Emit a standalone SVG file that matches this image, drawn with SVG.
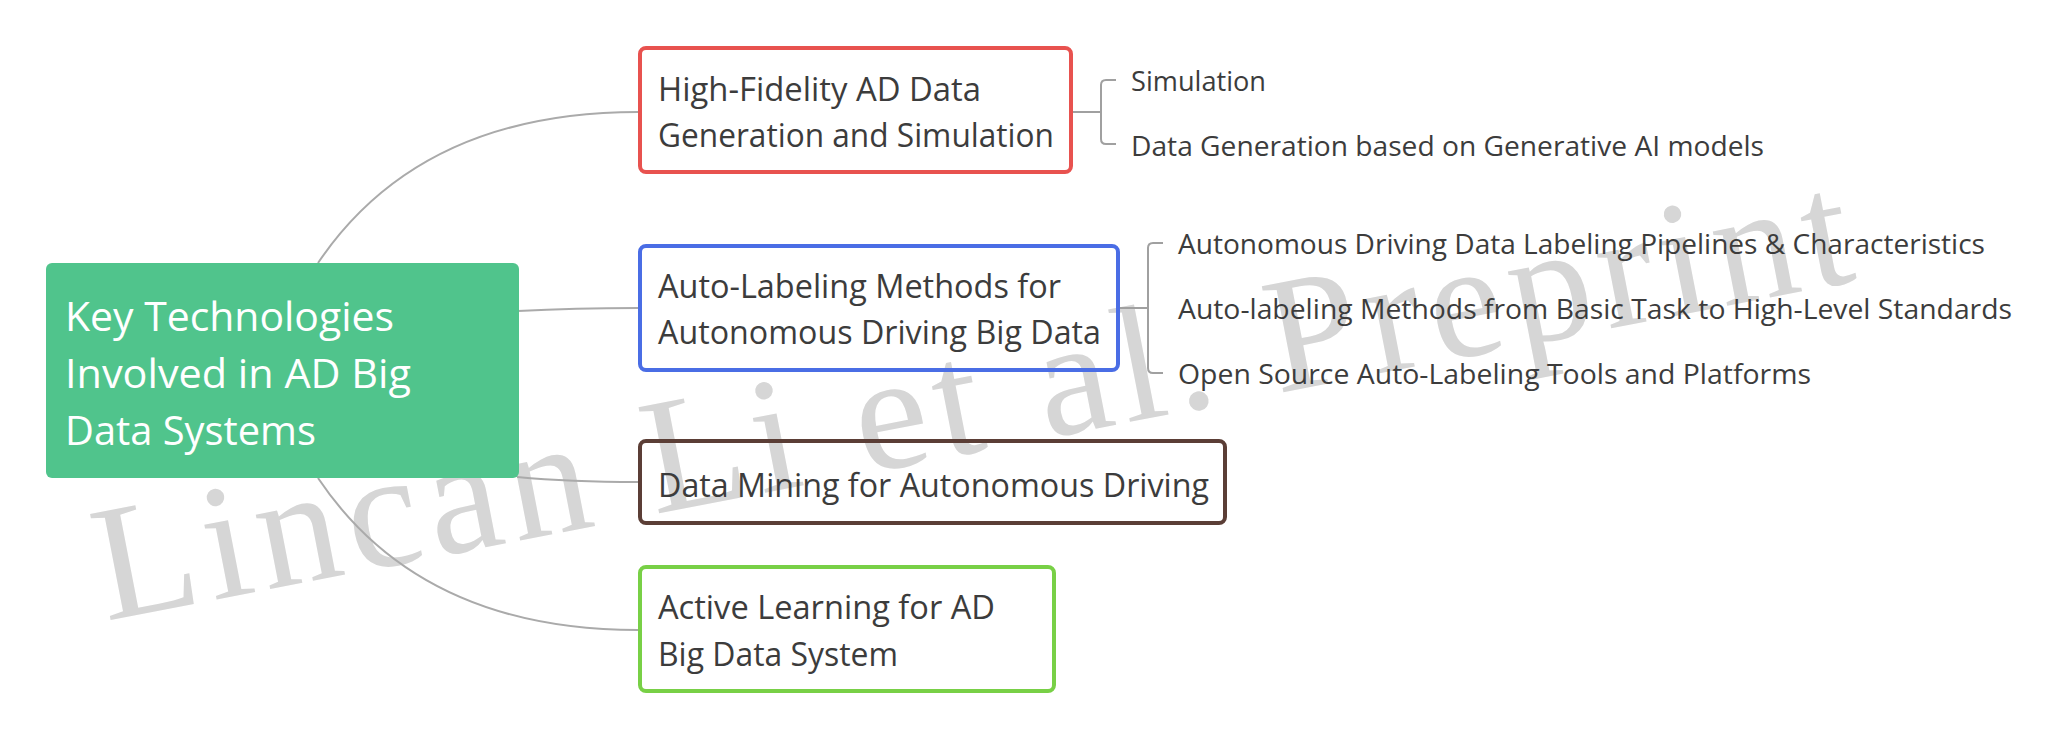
<svg xmlns="http://www.w3.org/2000/svg" width="2070" height="739" viewBox="0 0 2070 739">
<style>
.wm{font-family:"Liberation Serif","Times New Roman",serif;font-size:165px;fill:#d6d6d6;letter-spacing:8.5px}
.t{font-family:"Open Sans","Noto Sans","Liberation Sans",sans-serif;fill:#3c3c3c}
.root{font-size:41px;fill:#ffffff}
.node{font-size:32px}
.sub{font-size:28px}
.box{fill:none;stroke-width:4}
.conn{fill:none;stroke:#aaaaaa;stroke-width:2}
.br{fill:none;stroke:#a0a0a0;stroke-width:2}
</style>
<rect width="2070" height="739" fill="#ffffff"/>
<text class="wm" transform="translate(106,621) rotate(-11)">Lincan Li et al. Preprint</text>
<g id="connectors">
<path class="conn" d="M318,263 Q420,112 638,112"/>
<path class="conn" d="M518,311 Q575,308 638,308"/>
<path class="conn" d="M517,477 Q570,482 638,482"/>
<path class="conn" d="M318,478 Q420,630 638,630"/>
<path class="br" d="M1073,112 H1101"/>
<path class="br" d="M1116,80 H1106 Q1101,80 1101,85 V139 Q1101,144 1106,144 H1116"/>
<path class="br" d="M1120,308 H1148"/>
<path class="br" d="M1163,243 H1153 Q1148,243 1148,248 V368 Q1148,373 1153,373 H1163"/>
</g>
<g id="root">
<rect x="46" y="263" width="473" height="215" rx="6" fill="#50c48c"/>
<text class="t root" x="65" y="331" textLength="329" lengthAdjust="spacingAndGlyphs">Key Technologies</text>
<text class="t root" x="65" y="388" textLength="346" lengthAdjust="spacingAndGlyphs">Involved in AD Big</text>
<text class="t root" x="65" y="445" textLength="251" lengthAdjust="spacingAndGlyphs">Data Systems</text>
</g>
<g id="node-hifi">
<rect class="box" x="640" y="48" width="431" height="124" rx="6" stroke="#e8524f"/>
<text class="t node" x="658" y="101" textLength="323" lengthAdjust="spacingAndGlyphs">High-Fidelity AD Data</text>
<text class="t node" x="658" y="147" textLength="396" lengthAdjust="spacingAndGlyphs">Generation and Simulation</text>
</g>
<g id="node-autolabel">
<rect class="box" x="640" y="246" width="478" height="124" rx="6" stroke="#4a6de5"/>
<text class="t node" x="658" y="298" textLength="403" lengthAdjust="spacingAndGlyphs">Auto-Labeling Methods for</text>
<text class="t node" x="658" y="344" textLength="443" lengthAdjust="spacingAndGlyphs">Autonomous Driving Big Data</text>
</g>
<g id="node-mining">
<rect class="box" x="640" y="441" width="585" height="82" rx="6" stroke="#5b3e36"/>
<text class="t node" x="658" y="497" textLength="551" lengthAdjust="spacingAndGlyphs">Data Mining for Autonomous Driving</text>
</g>
<g id="node-active">
<rect class="box" x="640" y="567" width="414" height="124" rx="6" stroke="#78d046"/>
<text class="t node" x="658" y="619" textLength="337" lengthAdjust="spacingAndGlyphs">Active Learning for AD</text>
<text class="t node" x="658" y="666" textLength="240" lengthAdjust="spacingAndGlyphs">Big Data System</text>
</g>
<g id="sub-simulation"><text class="t sub" x="1131" y="91" textLength="135" lengthAdjust="spacingAndGlyphs">Simulation</text></g>
<g id="sub-generation"><text class="t sub" x="1131" y="156" textLength="633" lengthAdjust="spacingAndGlyphs">Data Generation based on Generative AI models</text></g>
<g id="sub-pipelines"><text class="t sub" x="1178" y="254" textLength="807" lengthAdjust="spacingAndGlyphs">Autonomous Driving Data Labeling Pipelines &amp; Characteristics</text></g>
<g id="sub-methods"><text class="t sub" x="1178" y="319" textLength="834" lengthAdjust="spacingAndGlyphs">Auto-labeling Methods from Basic Task to High-Level Standards</text></g>
<g id="sub-tools"><text class="t sub" x="1178" y="384" textLength="633" lengthAdjust="spacingAndGlyphs">Open Source Auto-Labeling Tools and Platforms</text></g>
</svg>
